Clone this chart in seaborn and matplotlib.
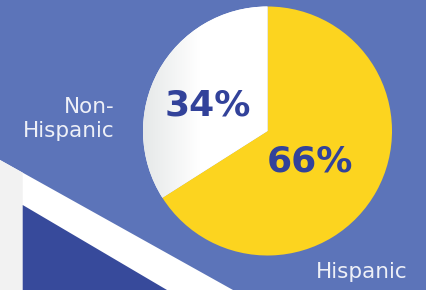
import matplotlib
matplotlib.use("Agg")
import matplotlib.pyplot as plt
import seaborn as sns
import numpy as np
from matplotlib.patches import Polygon

# Data
categories = ["Hispanic", "Non-Hispanic"]
values = [66, 34]
display_labels = ["Hispanic", "Non-\nHispanic"]

sns.set_style("white")
plt.rcParams['font.family'] = ['DejaVu Sans']

BG = "#5c74b9"
YELLOW = "#fcd41f"
DARK = "#374a9b"
TXT = "#32429a"
W, H = 427, 290

fig = plt.figure(figsize=(4.27, 2.90), dpi=100)
fig.patch.set_facecolor(BG)
ax = fig.add_axes([0, 0, 1, 1])
ax.set_facecolor(BG)
ax.set_xlim(0, W)
ax.set_ylim(0, H)
ax.set_aspect("equal")
ax.axis("off")

def P(x, y):
    return (x, H - y)

# decorative shapes bottom-left
ax.add_patch(Polygon([P(0, 160), P(233, 290), P(0, 290)], closed=True, fc="white", ec="none", zorder=1))
ax.add_patch(Polygon([P(0, 160), P(22.7, 172.7), P(22.7, 290), P(0, 290)], closed=True, fc="#f2f2f2", ec="none", zorder=2))
ax.add_patch(Polygon([P(22.7, 205), P(167, 290), P(22.7, 290)], closed=True, fc=DARK, ec="none", zorder=2))

# pie
cx, cy, r = 267.5, H - 131, 124.5
wedges, _ = ax.pie(values, colors=[YELLOW, "white"], startangle=90, counterclock=False,
                   center=(cx, cy), radius=r, frame=True,
                   wedgeprops=dict(linewidth=0, zorder=3))
ax.set_xlim(0, W)
ax.set_ylim(0, H)
ax.axis("off")

# gradient shading on the white wedge
grad = np.linspace(0, 1, 256)
shade = np.clip(grad / 0.45, 0, 1)
c0 = np.array([0.90, 0.91, 0.91])
c1 = np.array([1.0, 1.0, 1.0])
img = (c0[None, :] * (1 - shade[:, None]) + c1[None, :] * shade[:, None])[None, :, :]
im = ax.imshow(img, extent=[cx - r, cx, cy - r, cy + r], aspect="auto", zorder=4, interpolation="bilinear")
im.set_clip_path(wedges[1])
ax.set_xlim(0, W)
ax.set_ylim(0, H)

# percentage labels
ax.text(208, H - 105, f"{values[1]}%", color=TXT, fontsize=26, fontweight="bold",
        ha="center", va="center", zorder=6)
ax.text(310, H - 161, f"{values[0]}%", color=TXT, fontsize=26, fontweight="bold",
        ha="center", va="center", zorder=6)

# category labels
ax.text(115, H - 119, display_labels[1], color="#eef0f7", fontsize=15.5, ha="right",
        va="center", linespacing=1.25, zorder=6)
ax.text(362, H - 272, display_labels[0], color="#eef0f7", fontsize=15.5, ha="center",
        va="center", zorder=6)

fig.savefig("out.png", dpi=100, facecolor=BG)
